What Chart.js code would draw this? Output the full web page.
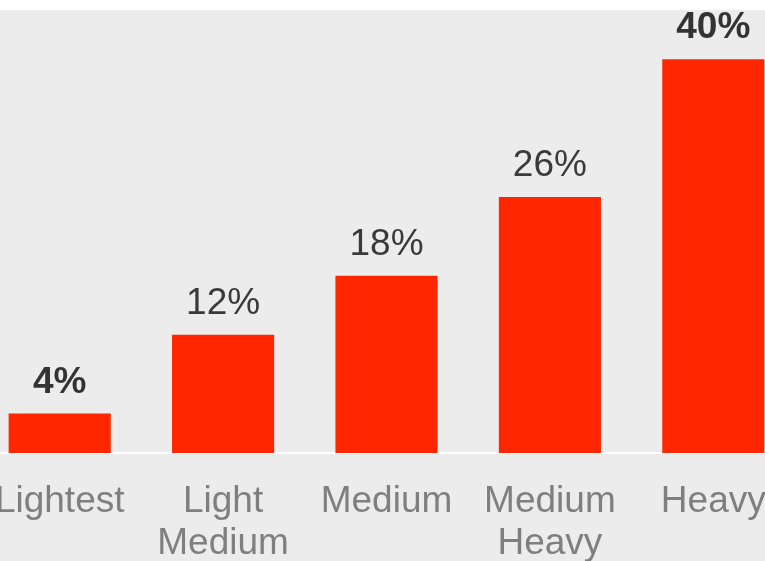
<!DOCTYPE html>
<html>
<head>
<meta charset="utf-8">
<script src="https://cdn.jsdelivr.net/npm/chart.js@4/dist/chart.umd.min.js"></script>
<style>
  html, body { margin: 0; padding: 0; background: #fff; overflow: hidden; }
  body { width: 765px; height: 561px; position: relative; }
  #wrap { position: absolute; left: -22px; top: 10px; width: 817px; height: 551px; background: #ececec; }
</style>
</head>
<body>
<div id="wrap"><canvas id="grafico"></canvas></div>
<script>
// --- datos ---
const categorias = [['Lightest'], ['Light', 'Medium'], ['Medium'], ['Medium', 'Heavy'], ['Heavy']];
const porcentajes = [4, 12, 18, 26, 40];
const etiquetas = ['4%', '12%', '18%', '26%', '40%'];

const ROJO = '#ff2600';
const FUENTE = '"Liberation Sans", Arial, sans-serif';

// Dibuja el porcentaje encima de cada barra (mín. y máx. en negrita)
const etiquetasBarras = {
    id: 'etiquetasBarras',
    afterDatasetsDraw(chart) {
        const ctx = chart.ctx;
        const meta = chart.getDatasetMeta(0);
        const min = Math.min(...porcentajes);
        const max = Math.max(...porcentajes);
        ctx.save();
        ctx.textAlign = 'center';
        ctx.textBaseline = 'alphabetic';
        meta.data.forEach((bar, i) => {
            const v = porcentajes[i];
            const destacado = v === min || v === max;
            ctx.font = (destacado ? 'bold ' : '') + '37px ' + FUENTE;
            ctx.fillStyle = destacado ? '#333333' : '#3a3a3a';
            ctx.fillText(etiquetas[i], bar.x, bar.y - 21);
        });
        ctx.restore();
    }
};

new Chart(document.getElementById('grafico'), {
    type: 'bar',
    data: {
        labels: categorias,
        datasets: [{
            data: porcentajes,
            backgroundColor: ROJO,
            borderWidth: 0,
            categoryPercentage: 1,
            barPercentage: 0.625
        }]
    },
    options: {
        responsive: true,
        maintainAspectRatio: false,
        devicePixelRatio: 1,
        animation: false,
        layout: { padding: 0 },
        plugins: {
            legend: { display: false },
            tooltip: { enabled: false }
        },
        scales: {
            x: {
                grid: { display: false, drawTicks: false },
                border: { display: true, color: '#ffffff', width: 2 },
                ticks: {
                    color: '#7f7f7f',
                    padding: 28,
                    font: { family: FUENTE, size: 37, lineHeight: 1.14 }
                },
                // altura fija del eje y sin margen lateral por las etiquetas
                afterFit(scale) {
                    scale.height = 108;
                    scale.paddingLeft = 0;
                    scale.paddingRight = 0;
                }
            },
            y: {
                display: false,
                min: 0,
                max: 45
            }
        }
    },
    plugins: [etiquetasBarras]
});
</script>
</body>
</html>
